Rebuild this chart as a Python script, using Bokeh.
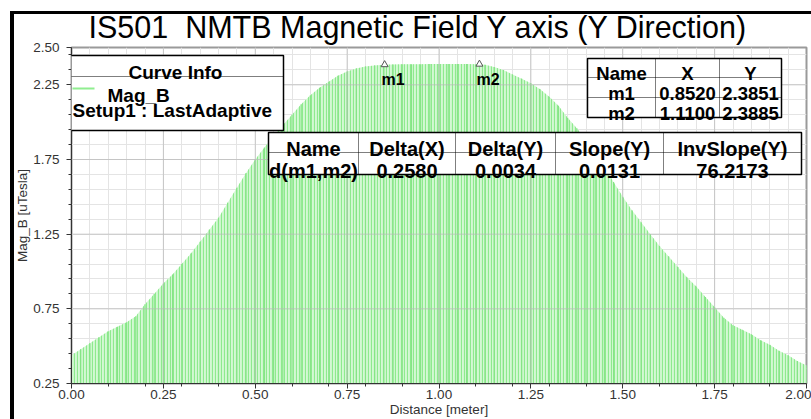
from bokeh.plotting import figure
from bokeh.models import FixedTicker, Label, BoxAnnotation, Span, Range1d, NumeralTickFormatter
from bokeh.embed import file_html
from bokeh.resources import INLINE

# Mag_B along the Y axis, sampled every 0.025 m
distance = [0.000, 0.025, 0.050, 0.075, 0.100, 0.125, 0.150, 0.175, 0.200, 0.225,
            0.250, 0.275, 0.300, 0.325, 0.350, 0.375, 0.400, 0.425, 0.450, 0.475,
            0.500, 0.525, 0.550, 0.575, 0.600, 0.625, 0.650, 0.675, 0.700, 0.725,
            0.750, 0.775, 0.800, 0.825, 0.850, 0.875, 0.900, 0.925, 0.950, 0.975,
            1.000, 1.025, 1.050, 1.075, 1.100, 1.125, 1.150, 1.175, 1.200, 1.225,
            1.250, 1.275, 1.300, 1.325, 1.350, 1.375, 1.400, 1.425, 1.450, 1.475,
            1.500, 1.525, 1.550, 1.575, 1.600, 1.625, 1.650, 1.675, 1.700, 1.725,
            1.750, 1.775, 1.800, 1.825, 1.850, 1.875, 1.900, 1.925, 1.950, 1.975,
            2.000]
mag_b = [0.44, 0.48, 0.52, 0.56, 0.60, 0.63, 0.66, 0.70, 0.78, 0.85,
         0.92, 0.98, 1.05, 1.12, 1.20, 1.28, 1.36, 1.46, 1.56, 1.66,
         1.75, 1.83, 1.91, 1.98, 2.05, 2.12, 2.18, 2.23, 2.27, 2.31,
         2.34, 2.36, 2.373, 2.380, 2.385, 2.386, 2.387, 2.388, 2.388, 2.389,
         2.389, 2.389, 2.389, 2.389, 2.3885, 2.385, 2.37, 2.35, 2.32, 2.29,
         2.26, 2.22, 2.17, 2.11, 2.03, 1.96, 1.88, 1.79, 1.70, 1.60,
         1.50, 1.41, 1.33, 1.25, 1.17, 1.10, 1.03, 0.96, 0.90, 0.83,
         0.76, 0.69, 0.64, 0.61, 0.58, 0.54, 0.51, 0.47, 0.44, 0.40,
         0.37]

marker_names = ["m1", "m2"]
marker_x = [0.8520, 1.1100]
marker_y = [2.3851, 2.3885]

delta_header = ["Name", "Delta(X)", "Delta(Y)", "Slope(Y)", "InvSlope(Y)"]
delta_row = ["d(m1,m2)", "0.2580", "0.0034", "0.0131", "76.2173"]

x_major = [0.00, 0.25, 0.50, 0.75, 1.00, 1.25, 1.50, 1.75, 2.00]
x_minor = [0.1, 0.2, 0.3, 0.4, 0.5, 0.6, 0.7, 0.8, 0.9, 1.0,
           1.1, 1.2, 1.3, 1.4, 1.5, 1.6, 1.7, 1.8, 1.9]
x_grid = [0.05, 0.10, 0.15, 0.20, 0.25, 0.30, 0.35, 0.40, 0.45, 0.50,
          0.55, 0.60, 0.65, 0.70, 0.75, 0.80, 0.85, 0.90, 0.95, 1.00,
          1.05, 1.10, 1.15, 1.20, 1.25, 1.30, 1.35, 1.40, 1.45, 1.50,
          1.55, 1.60, 1.65, 1.70, 1.75, 1.80, 1.85, 1.90, 1.95]
y_major = [0.25, 0.75, 1.25, 1.75, 2.25, 2.50]
y_minor = [0.35, 0.45, 0.55, 0.65, 0.85, 0.95, 1.05, 1.15, 1.35, 1.45,
           1.55, 1.65, 1.85, 1.95, 2.05, 2.15, 2.35, 2.45]
y_grid = [0.35, 0.45, 0.55, 0.65, 0.75, 0.85, 0.95, 1.05, 1.15, 1.25,
          1.35, 1.45, 1.55, 1.65, 1.75, 1.85, 1.95, 2.05, 2.15, 2.25,
          2.35, 2.45]

FONT = "Liberation Sans"
# page-pixel position of the plot frame's left and bottom edges
FRAME_L, FRAME_B = 71, 386

p = figure(width=811, height=419, output_backend="svg", toolbar_location=None,
           x_range=Range1d(0.0, 2.0), y_range=Range1d(0.25, 2.5),
           min_border_left=FRAME_L, min_border_right=5,
           min_border_top=47, min_border_bottom=33)
# transparent margins so the page background (with the black window frame
# along the left and top edges) shows around the plot
p.border_fill_alpha = 0.0
p.styles = {
    "background": ("linear-gradient(to right, white 10px, transparent 10px), "
                   "linear-gradient(to bottom, white 11px, black 11px, black 14px, transparent 14px), "
                   "linear-gradient(to right, transparent 10px, black 10px, black 14px, transparent 14px), "
                   "white"),
}
p.background_fill_color = "white"
p.outline_line_color = "#9a9a9a"
p.outline_line_width = 2

p.title.text = "IS501\u00a0 NMTB Magnetic Field Y axis (Y Direction)"
p.title.text_font = FONT
p.title.text_font_size = "30.5px"
p.title.text_font_style = "normal"
p.title.text_color = "black"
p.title.align = "left"
p.title.offset = 17
p.title.standoff = 8

# grid
p.xgrid.ticker = FixedTicker(ticks=x_grid)
p.ygrid.ticker = FixedTicker(ticks=y_grid)
for g in (p.xgrid, p.ygrid):
    g.grid_line_color = "#e4e4e4"
    g.grid_line_width = 1

# axes
p.xaxis.ticker = FixedTicker(ticks=x_major, minor_ticks=x_minor)
p.yaxis.ticker = FixedTicker(ticks=y_major, minor_ticks=y_minor)
p.xaxis.formatter = NumeralTickFormatter(format="0.00")
p.yaxis.formatter = NumeralTickFormatter(format="0.00")
p.xaxis.axis_label = "Distance [meter]"
p.yaxis.axis_label = "Mag_B [uTesla]"
for ax in (p.xaxis, p.yaxis):
    ax.axis_line_color = "#333333"
    ax.major_tick_line_color = "#333333"
    ax.minor_tick_line_color = "#333333"
    ax.major_tick_out = 5
    ax.major_tick_in = 0
    ax.minor_tick_out = 3
    ax.minor_tick_in = 0
    ax.major_label_text_font = FONT
    ax.major_label_text_font_size = "13.5px"
    ax.major_label_text_color = "#333333"
    ax.axis_label_text_font = FONT
    ax.axis_label_text_font_size = "13.5px"
    ax.axis_label_text_font_style = "normal"
    ax.axis_label_text_color = "#333333"
p.xaxis.major_label_standoff = 1
p.xaxis.axis_label_standoff = 0
p.yaxis.major_label_standoff = 7
p.yaxis.axis_label_standoff = 0

# curve body: pale fill with dense vertical hatching, plus a stem at every sample
base = p.y_range.start
p.varea(x=distance, y1=[base] * len(distance), y2=mag_b, fill_color="#d4f8d4",
        hatch_pattern="vertical_line", hatch_color="#8eea8e", hatch_scale=3,
        hatch_weight=1.2)
p.segment(x0=distance, y0=[base] * len(distance), x1=distance, y1=mag_b,
          line_color="#86e486", line_width=1.2)

# major grid lines showing through the curve
for xv in x_major[1:-1]:
    p.add_layout(Span(location=xv, dimension="height", line_color="#b8b8b8",
                      line_width=1, line_alpha=0.7))
for yv in y_major[1:-1]:
    p.add_layout(Span(location=yv, dimension="width", line_color="#b8b8b8",
                      line_width=1, line_alpha=0.7))

# markers
p.scatter(x=marker_x, y=marker_y, marker="triangle", size=7,
          fill_color="white", line_color="#555555", line_width=1)
for name, mx, my in zip(marker_names, marker_x, marker_y):
    p.add_layout(Label(x=mx, y=my, x_offset=-3, y_offset=-15, text=name,
                       text_font=FONT, text_font_size="16px", text_font_style="bold",
                       text_align="left", text_baseline="alphabetic", text_color="black"))


def box(left, top, right, bottom, fill="white", line="black", lw=1.0):
    p.add_layout(BoxAnnotation(left=left - FRAME_L, right=right - FRAME_L,
                               top=FRAME_B - top, bottom=FRAME_B - bottom,
                               left_units="screen", right_units="screen",
                               top_units="screen", bottom_units="screen",
                               fill_color=fill, fill_alpha=1.0,
                               line_color=line, line_width=lw,
                               line_alpha=1.0 if line else 0))


def text(x, y, s, size="16px", align="center", style="bold", color="black"):
    p.add_layout(Label(x=x - FRAME_L, y=FRAME_B - y, x_units="screen", y_units="screen",
                       text=s, text_font=FONT, text_font_size=size, text_font_style=style,
                       text_align=align, text_baseline="alphabetic", text_color=color))


# curve info box
box(65, 58, 283, 133, lw=1.5)
box(65, 79, 283, 79.5, fill="black", line=None)
text(175, 75, "Curve Info", size="19px")
box(72, 90, 94, 92, fill="#90ee90", line=None)
text(107, 98, "Mag_B", size="19px", align="left")
text(72, 113, "Setup1 : LastAdaptive", size="19px", align="left")

# marker table
mt_cols = [587, 655, 719, 781]
mt_rows = [61, 80, 100, 120]
box(mt_cols[0], mt_rows[0], mt_cols[-1], mt_rows[-1], lw=1.5)
for c in mt_cols[1:-1]:
    box(c, mt_rows[0], c + 0.5, mt_rows[-1], fill="black", line=None)
for r in mt_rows[1:-1]:
    box(mt_cols[0], r, mt_cols[-1], r + 0.5, fill="black", line=None)
mt_cells = [["Name", "X", "Y"]] + [[n, f"{x:.4f}", f"{y:.4f}"]
                                    for n, x, y in zip(marker_names, marker_x, marker_y)]
for ri, row in enumerate(mt_cells):
    for ci, s in enumerate(row):
        text((mt_cols[ci] + mt_cols[ci + 1]) / 2, mt_rows[ri + 1] - 4, s, size="18.5px")

# delta table
dt_cols = [268, 358, 455, 555, 663, 801]
dt_rows = [135, 155, 177]
box(dt_cols[0], dt_rows[0], dt_cols[-1], dt_rows[-1], lw=1.5)
for c in dt_cols[1:-1]:
    box(c, dt_rows[0], c + 0.5, dt_rows[-1], fill="black", line=None)
box(dt_cols[0], dt_rows[1], dt_cols[-1], dt_rows[1] + 0.5, fill="black", line=None)
for ri, row in enumerate([delta_header, delta_row]):
    for ci, s in enumerate(row):
        text((dt_cols[ci] + dt_cols[ci + 1]) / 2, dt_rows[ri + 1] - 4, s, size="20px")

open("out.html", "w").write(file_html(p, INLINE))
